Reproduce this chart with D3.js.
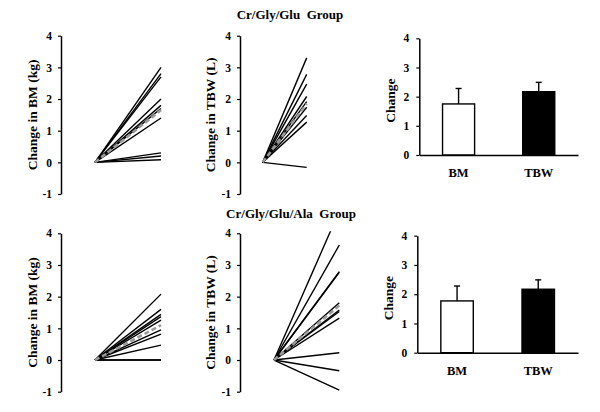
<!DOCTYPE html>
<html><head><meta charset="utf-8">
<script src="https://cdn.jsdelivr.net/npm/d3@7"></script>
<style>body{margin:0;background:#fff}svg{display:block}</style>
</head><body>
<script>
// ---- data ----
const timepoints = ["Pre", "Post"];
const bmChangeGlu = [3.0, 2.8, 2.7, 2.0, 1.8, 1.7, 1.4, 0.3, 0.2, 0.08];
const bmMeanGlu = 1.65;
const tbwChangeGlu = [3.3, 2.78, 2.47, 2.08, 1.92, 1.74, 1.48, 1.27, -0.16];
const tbwMeanGlu = 1.85;
const bmChangeAla = [2.08, 1.6, 1.44, 1.37, 1.26, 0.95, 0.82, 0.47, 0.0, 0.0];
const bmMeanAla = 1.1;
const tbwChangeAla = [4.7, 3.63, 2.79, 2.77, 1.81, 1.58, 1.53, 1.32, 0.23, -0.34, -0.95];
const tbwMeanAla = 1.72;
const barCategories = ["BM", "TBW"];
const barMeansGlu = [1.75, 2.17];
const barErrGlu = [0.53, 0.32];
const barMeansAla = [1.77, 2.17];
const barErrAla = [0.51, 0.32];
const lineTicks = [-1, 0, 1, 2, 3, 4];
const barTicks = [0, 1, 2, 3, 4];
const groupTitles = ["Cr/Gly/Glu  Group", "Cr/Gly/Glu/Ala  Group"];

// ---- drawing ----
const W = 600, H = 412;
const FONT = "'Liberation Serif','Times New Roman',serif";
const svg = d3.select("body").append("svg").attr("width", W).attr("height", H);
const defs = svg.append("defs");
let clipId = 0;
const fmt = d => String(d);

function styleAxis(g, size) {
  g.selectAll("path.domain").attr("stroke", "#000").attr("stroke-width", 1.5);
  g.selectAll(".tick line").attr("stroke", "#000").attr("stroke-width", 1.2);
  g.selectAll(".tick text").attr("font-family", FONT).attr("font-weight", "bold")
    .attr("font-size", size).attr("fill", "#000");
}

function linePanel(o) {
  const y = d3.scaleLinear().domain([-1, 4]).range([o.yBottom, o.yTop]);
  const x = d3.scalePoint().domain(timepoints).range([o.x0, o.x1]);
  const ax = svg.append("g").attr("transform", `translate(${o.axisX},0)`)
    .call(d3.axisLeft(y).tickValues(lineTicks).tickFormat(fmt).tickSize(3).tickPadding(6).tickSizeOuter(0));
  styleAxis(ax, 11.5);
  const id = "clip" + (clipId++);
  defs.append("clipPath").attr("id", id).append("rect")
    .attr("x", o.axisX).attr("y", y(4) - 2).attr("width", 200).attr("height", y(-1) - y(4) + 6);
  const g = svg.append("g").attr("clip-path", `url(#${id})`);
  const line = d3.line().x(d => x(d.t)).y(d => y(d.v));
  o.values.forEach(v => {
    g.append("path").attr("d", line([{t: "Pre", v: 0}, {t: "Post", v: v}]))
      .attr("fill", "none").attr("stroke", "#000").attr("stroke-width", 1.4);
  });
  g.append("path").attr("d", line([{t: "Pre", v: 0}, {t: "Post", v: o.mean}]))
    .attr("fill", "none").attr("stroke", "#999").attr("stroke-width", 2.6)
    .attr("stroke-dasharray", "5,3");
  svg.append("text").attr("transform", `translate(${o.labelX},${(y(4) + y(-1)) / 2 + o.labelDy}) rotate(-90)`)
    .attr("text-anchor", "middle").attr("font-family", FONT).attr("font-weight", "bold")
    .attr("font-size", 13.5).text(o.label);
}

function barPanel(o) {
  const y = d3.scaleLinear().domain([0, 4]).range([o.yBottom, o.yTop]);
  const x = d3.scaleBand().domain(barCategories).range([o.x0, o.x1]).paddingInner(0.6).paddingOuter(0.29);
  const fills = ["#fff", "#000"];
  o.means.forEach((m, i) => {
    const cx = x(barCategories[i]) + x.bandwidth() / 2;
    svg.append("line").attr("x1", cx).attr("x2", cx).attr("y1", y(m)).attr("y2", y(m + o.errs[i]))
      .attr("stroke", "#000").attr("stroke-width", 1.4);
    svg.append("line").attr("x1", cx - 3).attr("x2", cx + 3).attr("y1", y(m + o.errs[i])).attr("y2", y(m + o.errs[i]))
      .attr("stroke", "#000").attr("stroke-width", 1.4);
    svg.append("rect").attr("x", x(barCategories[i])).attr("y", y(m))
      .attr("width", x.bandwidth()).attr("height", y(0) - y(m))
      .attr("fill", fills[i]).attr("stroke", "#000").attr("stroke-width", 1.4);
  });
  const ay = svg.append("g").attr("transform", `translate(${o.x0},0)`)
    .call(d3.axisLeft(y).tickValues(barTicks).tickFormat(fmt).tickSize(3).tickPadding(7).tickSizeOuter(0));
  styleAxis(ay, 11.5);
  const axb = svg.append("g").attr("transform", `translate(0,${y(0)})`)
    .call(d3.axisBottom(x).tickSize(0).tickPadding(13).tickSizeOuter(0));
  styleAxis(axb, 12.5);
  svg.append("text").attr("transform", `translate(${o.labelX},${(y(4) + y(0)) / 2 + 4}) rotate(-90)`)
    .attr("text-anchor", "middle").attr("font-family", FONT).attr("font-weight", "bold")
    .attr("font-size", 13.5).text("Change");
}

// titles
svg.append("text").attr("x", 290).attr("y", 19).attr("text-anchor", "middle")
  .attr("font-family", FONT).attr("font-weight", "bold").attr("font-size", 13)
  .style("white-space", "pre").text(groupTitles[0]);
svg.append("text").attr("x", 291).attr("y", 218).attr("text-anchor", "middle")
  .attr("font-family", FONT).attr("font-weight", "bold").attr("font-size", 13)
  .style("white-space", "pre").text(groupTitles[1]);

// top row
linePanel({values: bmChangeGlu, mean: bmMeanGlu, yTop: 35.7, yBottom: 194, axisX: 61, x0: 95, x1: 161,
  label: "Change in BM (kg)", labelX: 37, labelDy: 0});
linePanel({values: tbwChangeGlu, mean: tbwMeanGlu, yTop: 35.7, yBottom: 194, axisX: 240, x0: 262.7, x1: 306.7,
  label: "Change in TBW (L)", labelX: 215, labelDy: 0});
barPanel({means: barMeansGlu, errs: barErrGlu, yTop: 38.3, yBottom: 155, x0: 419.3, x1: 578, labelX: 395});

// bottom row
linePanel({values: bmChangeAla, mean: bmMeanAla, yTop: 233.3, yBottom: 391.7, axisX: 61, x0: 95, x1: 161,
  label: "Change in BM (kg)", labelX: 37, labelDy: 0});
linePanel({values: tbwChangeAla, mean: tbwMeanAla, yTop: 233.3, yBottom: 391.7, axisX: 240, x0: 274, x1: 339.3,
  label: "Change in TBW (L)", labelX: 215, labelDy: 0});
barPanel({means: barMeansAla, errs: barErrAla, yTop: 235.7, yBottom: 352.7, x0: 417.3, x1: 578, labelX: 393});
</script>
</body></html>
